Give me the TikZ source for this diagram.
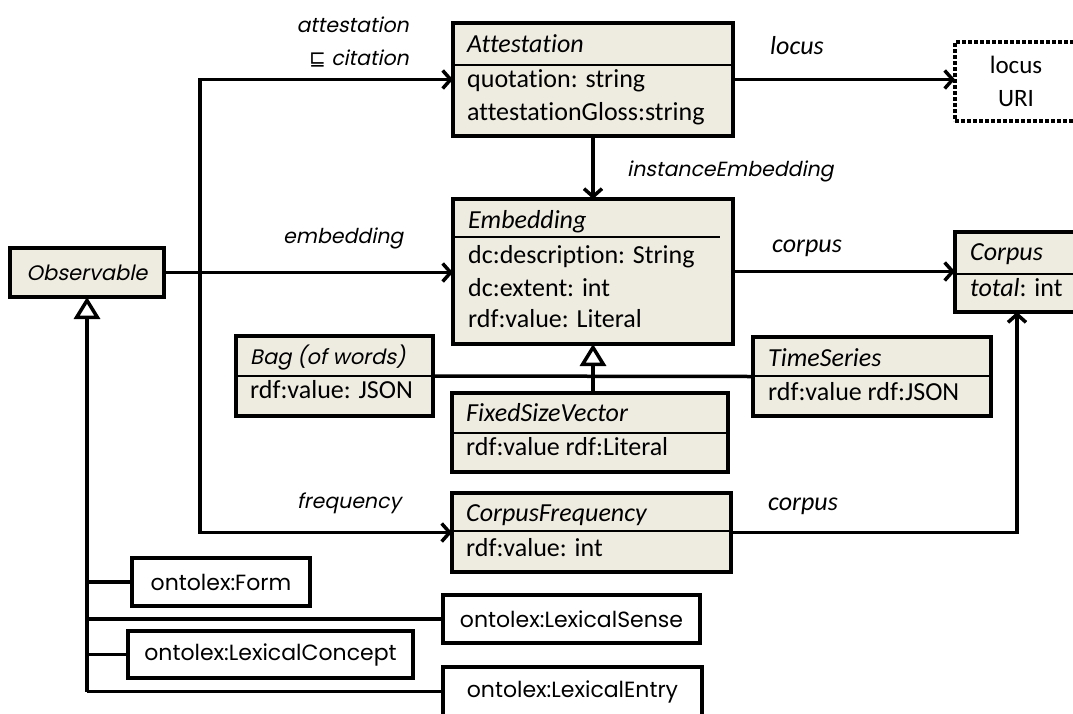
\documentclass[tikz,border=0pt]{standalone}
\usepackage{fontspec}
\setmainfont{Carlito}[Ligatures=NoCommon]
\newfontfamily\gothic{Poppins}
\newfontfamily\gothicsl[FakeSlant=0.2]{Poppins}
\newfontfamily\symfont{DejaVu Sans}
\usetikzlibrary{arrows.meta}
\definecolor{umlfill}{HTML}{EEECE1}

\begin{document}
\begin{tikzpicture}[x=1pt,y=-1pt,
  boxbase/.style={draw,line width=4pt,inner sep=0pt,outer sep=0pt,anchor=north west},
  classbox/.style={boxbase,fill=umlfill},
  plainbox/.style={boxbase,fill=white,font=\gothic\fontsize{22}{24}\selectfont},
  dotbox/.style={boxbase,fill=white,dotted,line cap=butt,align=center,font=\fontsize{25}{33}\selectfont},
  sepline/.style={line width=1.3pt},
  txt/.style={inner sep=0pt,anchor=mid west,yshift=-5pt,font=\fontsize{26}{30}\selectfont},
  hdr/.style={txt,font=\fontsize{26}{30}\selectfont\itshape},
  ghdr/.style={txt,yshift=1pt,font=\gothicsl\fontsize{21}{24}\selectfont},
  rolelbl/.style={inner sep=0pt,anchor=mid west,yshift=-5pt,font=\fontsize{26}{30}\selectfont\itshape},
  grolelbl/.style={inner sep=0pt,anchor=mid west,yshift=-4pt,font=\gothicsl\fontsize{20.5}{24}\selectfont},
  conn/.style={line width=3.5pt},
  arr/.style={conn,-{Straight Barb[length=8pt,width=18pt]}},
  gen/.style={conn,-{Triangle[open,length=22pt,width=26pt,fill=white]}}
]
\useasboundingbox (0,0) rectangle (1073,713);
\clip (0,0) rectangle (1073,713);

% ---- classes ----
\node[classbox,minimum width=154pt,minimum height=49pt,font=\gothicsl\fontsize{21}{24}\selectfont] (obs) at (10,248) {Observable};

\node[classbox,minimum width=280pt,minimum height=113pt] (att) at (453,23) {};
\draw[sepline] (453,65) -- (733,65);
\node[hdr] (atth) at (467,45) {Attestation};
\node[txt] (att1) at (467,80) {quotation: string};
\node[txt] (att2) at (467,113) {attestationGloss:string};

\node[classbox,minimum width=280pt,minimum height=145pt] (emb) at (453,199) {};
\draw[sepline] (453,237) -- (720,237);
\node[hdr] (embh) at (468,221) {Embedding};
\node[txt] (emb1) at (468,256) {dc:description: String};
\node[txt] (emb2) at (468,289) {dc:extent: int};
\node[txt] (emb3) at (468,320) {rdf:value: Literal};

\node[classbox,minimum width=124pt,minimum height=80pt] (corpus) at (955,232) {};
\draw[sepline] (955,274) -- (1079,274);
\node[hdr] (corh) at (970,253) {Corpus};
\node[txt] (cor1) at (970,289) {\textit{total}: int};

\node[dotbox,minimum width=122pt,minimum height=79pt] (locus) at (955,42) {locus\\URI};

\node[classbox,minimum width=238pt,minimum height=79pt] (ts) at (753,337) {};
\draw[sepline] (753,376) -- (991,376);
\node[hdr] (tsh) at (768,359) {TimeSeries};
\node[txt] (ts1) at (768,393) {rdf:value rdf:JSON};

\node[classbox,minimum width=197pt,minimum height=80pt] (bag) at (236,336) {};
\draw[sepline] (236,376) -- (433,376);
\node[ghdr] (bagh) at (250,358) {Bag (of words)};
\node[txt] (bag1) at (250,391) {rdf:value: JSON};

\node[classbox,minimum width=276pt,minimum height=79pt] (fsv) at (452,393) {};
\draw[sepline] (452,433) -- (728,433);
\node[hdr] (fsvh) at (466,414) {FixedSizeVector};
\node[txt] (fsv1) at (466,448) {rdf:value rdf:Literal};

\node[classbox,minimum width=279pt,minimum height=79pt] (cf) at (452,493) {};
\draw[sepline] (452,531) -- (731,531);
\node[hdr] (cfh) at (466,514) {CorpusFrequency};
\node[txt] (cf1) at (466,549) {rdf:value: int};

% ---- OntoLex classes ----
\node[plainbox,minimum width=178pt,minimum height=48pt] (form) at (132,558) {ontolex:Form};
\node[plainbox,minimum width=257pt,minimum height=48pt] (sense) at (443,595) {ontolex:LexicalSense};
\node[plainbox,minimum width=285pt,minimum height=47pt] (concept) at (128,631) {ontolex:LexicalConcept};
\node[plainbox,minimum width=259pt,minimum height=49pt] (entry) at (443,667) {ontolex:LexicalEntry};

% ---- properties of Observable ----
\coordinate (fork) at (200,272.5);
\draw[arr] (obs.east) -- (emb.west |- obs.east);
\draw[arr] (fork) |- (att.west);
\draw[arr] (fork) |- (cf.west);
\node[grolelbl,anchor=mid east] (lblatt1) at (409,26) {attestation};
\node[grolelbl,anchor=mid east] (lblatt2) at (409,59) {{\symfont\fontsize{20}{22}\selectfont ⊑} citation};
\node[grolelbl] (lblemb) at (283,237) {embedding};
\node[grolelbl] (lblfreq) at (297,502) {frequency};

% ---- other properties ----
\draw[arr] (att.east) -- (att.east -| locus.west);
\node[rolelbl] (lbllocus) at (770,47) {locus};
\draw[arr] (att.south) -- (emb.north);
\node[grolelbl] (lblinst) at (627,170) {instanceEmbedding};
\draw[arr] (emb.east) -- (emb.east -| corpus.west);
\node[rolelbl] (lblcor1) at (772,245) {corpus};
\draw[arr] (cf.east) -| (corpus.south);
\node[rolelbl] (lblcor2) at (768,503) {corpus};

% ---- subclasses of Embedding ----
\draw[conn] (bag.east) -- (ts.west);
\draw[gen] (fsv.north -| emb.south) -- (emb.south);

% ---- subclasses of Observable ----
\draw[gen] (entry.west -| obs.south) -- (obs.south);
\draw[conn] (entry.west) -- (entry.west -| obs.south);
\draw[conn] (form.west) -- (form.west -| obs.south);
\draw[conn] (sense.west) -- (sense.west -| obs.south);
\draw[conn] (concept.west) -- (concept.west -| obs.south);
\end{tikzpicture}
\end{document}
